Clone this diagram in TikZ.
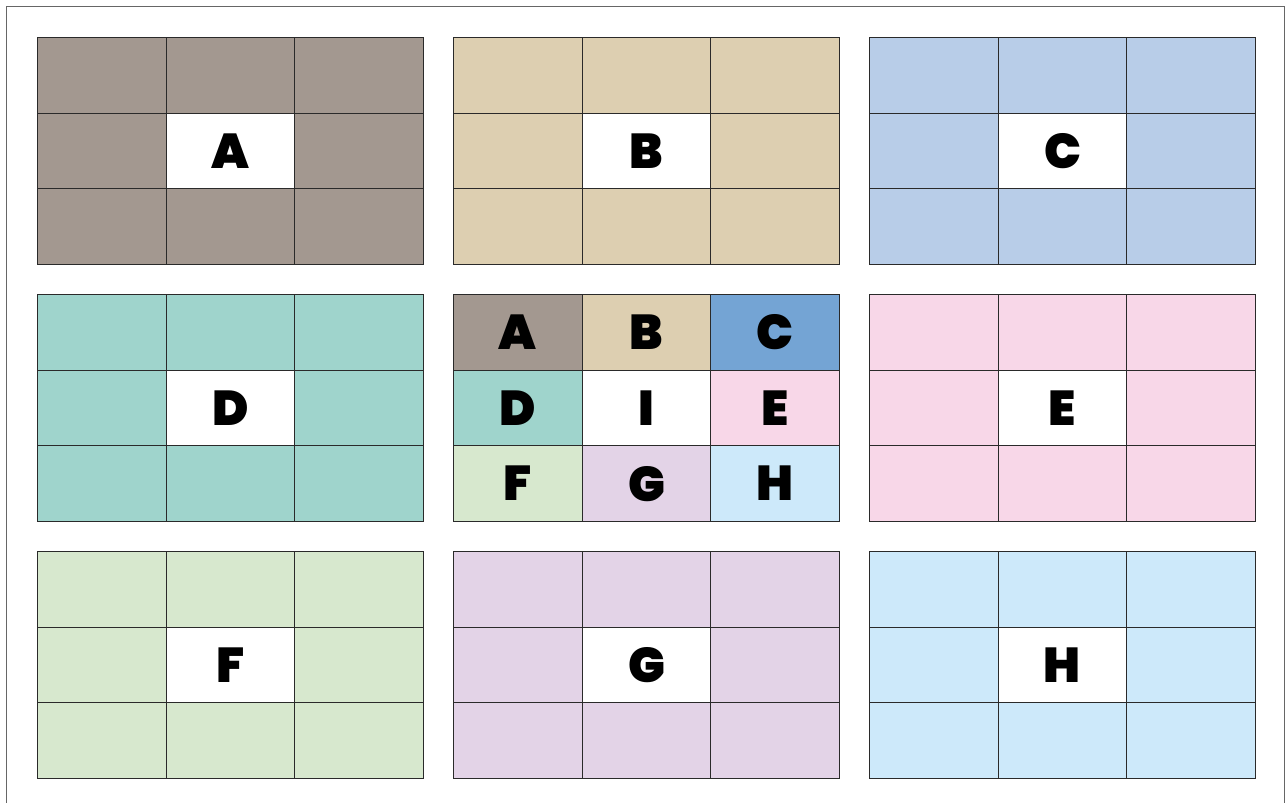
\documentclass[tikz,border=0pt]{standalone}
\usepackage{fontspec}
\newfontfamily\blk{Poppins Black}
\definecolor{cA}{HTML}{A39890}
\definecolor{cB}{HTML}{DDCFB1}
\definecolor{cC}{HTML}{B8CDE8}
\definecolor{cCd}{HTML}{74A4D4}
\definecolor{cD}{HTML}{9FD4CC}
\definecolor{cE}{HTML}{F8D7E8}
\definecolor{cF}{HTML}{D7E8CE}
\definecolor{cG}{HTML}{E3D3E7}
\definecolor{cH}{HTML}{CDE9FA}
\definecolor{edge}{HTML}{2A2A2A}
\tikzset{
  cell/.style={draw=edge, line width=0.9pt, rectangle, minimum width=128.67pt, minimum height=75.67pt, inner sep=0pt, anchor=north west, font=\blk\fontsize{49}{49}\selectfont},
  frame/.style={draw=gray!80!black, line width=1pt}
}
\begin{document}
\begin{tikzpicture}[x=1pt,y=-1pt]
\useasboundingbox (0,0) rectangle (1288,803);
\draw[frame] (6.5,811) -- (6.5,6.5) -- (1284.5,6.5) -- (1284.5,811);
\foreach \n/\x/\y/\c/\l in {A/37/37/cA/A, B/453/37/cB/B, C/869/37/cC/C, D/37/294/cD/D, E/869/294/cE/E, F/37/551/cF/F, G/453/551/cG/G, H/869/551/cH/H}{
  \foreach \i in {0,1,2}{
    \foreach \j in {0,1,2}{
      \node[cell, fill=\c] (\n-\i-\j) at ({\x+\i*128.67},{\y+\j*75.67}) {};
    }
  }
  \node[cell, fill=white] (\n-c) at ({\x+128.67},{\y+75.67}) {\l};
}
% centre grid
\foreach \l/\c/\i/\j in {A/cA/0/0, B/cB/1/0, C/cCd/2/0, D/cD/0/1, I/white/1/1, E/cE/2/1, F/cF/0/2, G/cG/1/2, H/cH/2/2}{
  \node[cell, fill=\c] (M-\l) at ({453+\i*128.67},{294+\j*75.67}) {\l};
}
\end{tikzpicture}
\end{document}
